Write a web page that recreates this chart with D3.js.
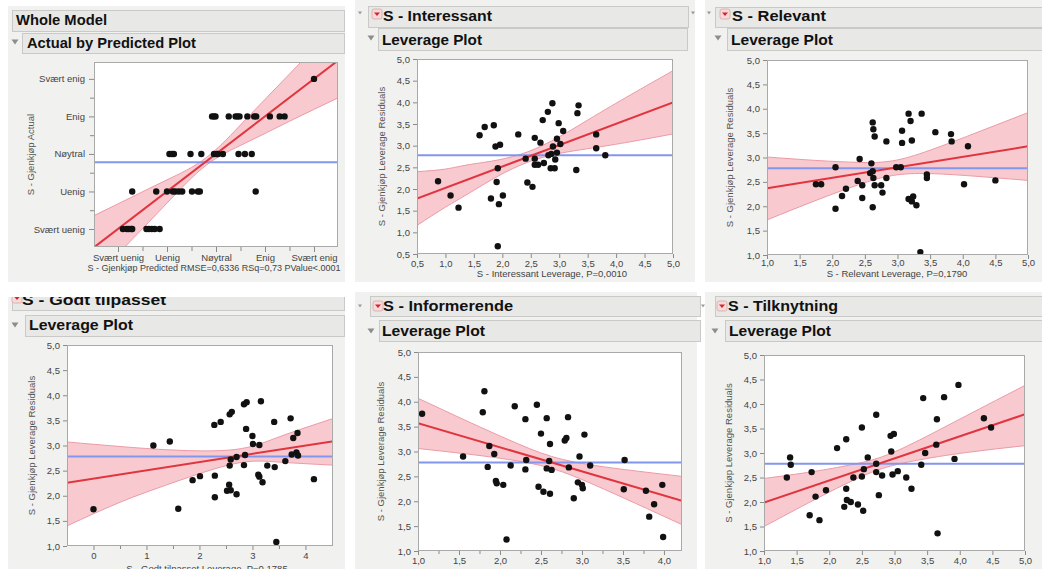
<!DOCTYPE html>
<html>
<head>
<meta charset="utf-8">
<script src="https://cdn.jsdelivr.net/npm/d3@7"></script>
<style>
  html, body { margin: 0; padding: 0; background: #fff; }
  svg { display: block; font-family: "Liberation Sans", Arial, Helvetica, sans-serif; }
</style>
</head>
<body>
<svg id="chart" width="1042" height="569"></svg>
<script>
// ---- data ----
const actualCats = ['Svært uenig', 'Uenig', 'Nøytral', 'Enig', 'Svært enig'];
const meanResponse = 2.78;

// Whole model: predicted vs actual (ordinal 1..5)
const wholePred = [5.0,
  2.92, 2.96, 2.99, 3.26, 3.40, 3.44, 3.48, 3.64, 3.78, 3.82, 4.10, 4.30, 4.40,
  2.05, 2.10, 2.14, 2.48, 2.70, 2.96, 3.01, 3.04, 3.14, 3.46, 3.59, 3.73,
  1.29, 1.78, 2.00, 2.12, 2.17, 2.24, 2.31, 2.51, 2.63, 2.67, 3.81,
  1.10, 1.18, 1.22, 1.27, 1.29, 1.58, 1.63, 1.69, 1.75, 1.85];
const wholeActual = [5,
  4, 4, 4, 4, 4, 4, 4, 4, 4, 4, 4, 4, 4,
  3, 3, 3, 3, 3, 3, 3, 3, 3, 3, 3, 3,
  2, 2, 2, 2, 2, 2, 2, 2, 2, 2, 2,
  1, 1, 1, 1, 1, 1, 1, 1, 1, 1];
const wholeLineX = [0.5, 5.5];
const wholeLineY = [0.5, 5.5];
const wholeBandX = [0.5, 1.25, 2.0, 2.8, 3.6, 4.5, 5.5];
const wholeBandLo = [-0.35, 0.67, 1.69, 2.70, 3.29, 3.87, 4.50];
const wholeBandHi = [1.35, 1.83, 2.31, 2.90, 3.91, 5.13, 6.50];

// S - Interessant
const interX = [0.87, 1.09, 1.23, 1.60, 1.69, 1.80, 1.85, 1.88, 1.92, 1.90, 1.94, 1.92, 1.96, 2.01, 2.28,
  2.41, 2.44, 2.53, 2.57, 2.57, 2.57, 2.63, 2.67, 2.71, 2.73, 2.80, 2.81, 2.86, 2.85, 2.88,
  2.89, 2.92, 2.93, 2.96, 2.96, 2.99, 3.02, 3.07, 3.30, 3.32, 3.34, 3.65, 3.65, 3.81];
const interY = [2.18, 1.85, 1.57, 3.24, 3.43, 1.78, 3.47, 2.98, 2.48, 2.16, 1.65, 0.68, 3.02, 1.85, 3.26,
  2.70, 2.15, 2.05, 3.18, 2.70, 2.56, 2.56, 3.07, 3.59, 2.60, 3.78, 2.78, 2.81, 2.48, 3.98,
  2.98, 2.48, 2.68, 2.84, 3.16, 3.52, 3.04, 3.34, 2.44, 3.75, 3.93, 3.26, 2.94, 2.78];
const interLineX = [0.5, 5.0];
const interLineY = [1.78, 4.0];
const interBandX = [0.5, 1.0, 1.5, 2.45, 3.5, 4.25, 5.0];
const interBandLo = [1.16, 1.58, 1.97, 2.62, 2.93, 3.09, 3.27];
const interBandHi = [2.40, 2.46, 2.58, 2.86, 3.59, 4.17, 4.73];

// S - Relevant
const relX = [1.75, 1.83, 2.05, 2.05, 2.15, 2.21, 2.39, 2.42, 2.46, 2.46, 2.60, 2.58, 2.62, 2.62, 2.63,
  2.65, 2.63, 2.62, 2.65, 2.75, 2.77, 2.83, 2.83, 2.98, 3.05, 3.07, 3.07, 3.17, 3.20, 3.22,
  3.17, 3.22, 3.24, 3.29, 3.35, 3.37, 3.45, 3.45, 3.58, 3.82, 3.83, 4.02, 4.08, 4.50];
const relY = [2.45, 2.45, 2.80, 1.95, 2.21, 2.36, 2.52, 2.97, 2.43, 2.17, 2.88, 2.68, 2.72, 3.72, 3.58,
  3.43, 2.58, 1.98, 2.43, 2.43, 2.28, 3.33, 2.58, 2.80, 2.80, 3.55, 3.30, 3.90, 3.75, 3.35,
  2.15, 2.10, 2.20, 2.02, 1.06, 3.90, 2.65, 2.58, 3.52, 3.48, 3.33, 2.45, 3.23, 2.53];
const relLineX = [1.0, 5.0];
const relLineY = [2.37, 3.23];
const relBandX = [1.0, 1.75, 2.4, 2.92, 3.5, 4.25, 5.0];
const relBandLo = [1.72, 2.12, 2.44, 2.63, 2.67, 2.61, 2.53];
const relBandHi = [3.01, 2.94, 2.90, 2.93, 3.15, 3.53, 3.92];

// S - Godt tilpasset
const godtX = [0.00, 1.13, 1.44, 1.60, 1.87, 2.01, 2.28, 2.29, 2.29, 2.40, 2.52, 2.56, 2.57, 2.59, 2.57,
  2.61, 2.59, 2.70, 2.70, 2.84, 2.89, 2.88, 2.86, 2.84, 3.00, 3.01, 3.13, 3.16, 3.11, 3.13,
  3.19, 3.28, 3.41, 3.42, 3.45, 3.62, 3.72, 3.74, 3.77, 3.85, 3.83, 3.86, 4.16];
const godtY = [1.73, 3.00, 3.08, 1.74, 2.31, 2.39, 3.41, 2.40, 1.97, 3.47, 2.10, 2.22, 2.60, 2.11, 3.62,
  3.67, 2.72, 2.77, 2.03, 3.82, 3.86, 3.33, 2.81, 2.61, 3.19, 3.03, 3.01, 3.88, 2.42, 2.38,
  2.27, 2.60, 3.47, 2.57, 1.08, 2.69, 3.54, 2.82, 3.15, 3.25, 2.86, 2.80, 2.33];
const godtLineX = [-0.5, 4.5];
const godtLineY = [2.26, 3.08];
const godtBandX = [-0.5, 0.5, 1.5, 2.67, 3.5, 4.5];
const godtBandLo = [1.40, 1.87, 2.26, 2.64, 2.67, 2.61];
const godtBandHi = [3.07, 2.98, 2.91, 2.92, 3.17, 3.53];

// S - Informerende
const infX = [1.05, 1.55, 1.79, 1.81, 1.87, 1.85, 1.93, 1.95, 1.96, 2.04, 2.08, 2.13, 2.18, 2.31, 2.31,
  2.32, 2.45, 2.47, 2.50, 2.53, 2.57, 2.57, 2.60, 2.61, 2.61, 2.63, 2.79, 2.81, 2.83, 2.84,
  2.90, 2.95, 2.97, 3.00, 3.01, 3.03, 3.10, 3.51, 3.52, 3.78, 3.82, 3.88, 3.98, 3.99];
const infY = [3.76, 2.90, 3.79, 4.21, 3.11, 2.69, 2.95, 2.41, 2.36, 2.33, 1.23, 2.72, 3.91, 3.65, 2.64,
  2.83, 3.94, 2.29, 3.36, 2.19, 3.67, 2.66, 2.81, 2.15, 3.15, 2.63, 3.22, 3.27, 3.69, 2.68,
  2.06, 2.38, 2.90, 2.33, 2.26, 3.34, 2.72, 2.24, 2.83, 2.21, 1.69, 1.94, 2.33, 1.28];
const infLineX = [1.0, 4.22];
const infLineY = [3.57, 2.01];
const infBandX = [1.0, 1.6, 2.1, 2.63, 3.15, 3.65, 4.22];
const infBandLo = [3.06, 2.95, 2.84, 2.66, 2.33, 1.96, 1.53];
const infBandHi = [4.07, 3.61, 3.24, 2.90, 2.72, 2.61, 2.50];

// S - Tilknytning
const tilX = [1.35, 1.40, 1.41, 1.70, 1.73, 1.79, 1.85, 1.95, 2.12, 2.23, 2.26, 2.26, 2.27, 2.33, 2.37,
  2.44, 2.50, 2.50, 2.52, 2.53, 2.59, 2.72, 2.72, 2.72, 2.76, 2.81, 2.94, 2.99, 2.95, 2.97,
  3.05, 3.18, 3.26, 3.41, 3.44, 3.47, 3.64, 3.65, 3.66, 3.76, 3.92, 3.98, 4.37, 4.48];
const tilY = [2.50, 2.91, 2.76, 1.73, 2.61, 2.11, 1.63, 2.24, 3.10, 1.90, 3.28, 2.27, 2.04, 2.00, 2.50,
  1.95, 3.52, 2.52, 1.82, 2.67, 2.91, 3.78, 2.78, 2.61, 2.14, 2.54, 3.35, 3.39, 3.03, 2.56,
  2.63, 2.50, 2.27, 2.76, 4.12, 3.00, 3.17, 3.69, 1.36, 4.14, 2.88, 4.39, 3.71, 3.52];
const tilLineX = [1.0, 5.0];
const tilLineY = [1.99, 3.79];
const tilBandX = [1.0, 1.75, 2.3, 2.76, 3.3, 4.1, 5.0];
const tilBandLo = [1.50, 2.03, 2.40, 2.66, 2.84, 3.01, 3.15];
const tilBandHi = [2.48, 2.62, 2.75, 2.90, 3.21, 3.76, 4.38];

const halfTicks15 = [1.0, 1.5, 2.0, 2.5, 3.0, 3.5, 4.0, 4.5, 5.0];
const halfTicks05 = [0.5, 1.0, 1.5, 2.0, 2.5, 3.0, 3.5, 4.0, 4.5, 5.0];
const godtXTicks = [0, 1, 2, 3, 4];
const godtXMinor = [0.5, 1.5, 2.5, 3.5];
const infXTicks = [1.0, 1.5, 2.0, 2.5, 3.0, 3.5, 4.0];
const infXMinor = [1.25, 1.75, 2.25, 2.75, 3.25, 3.75];
const catTicks = [1, 2, 3, 4, 5];
const catMinor = [1.5, 2.5, 3.5, 4.5];

const yTitleLev = 'S - Gjenkjøp Leverage Residuals';

// ---- helpers ----
const svg = d3.select('#chart');
const nb = d3.formatLocale({ decimal: ',', thousands: '.', grouping: [3], currency: ['', ''] });
const f1 = nb.format('.1f');
const catFmt = d => actualCats[d - 1];

const zip = (xs, ys) => xs.map((x, i) => ({ x, y: ys[i] }));
const bandRows = (xs, lo, hi) => xs.map((x, i) => ({ x, lo: lo[i], hi: hi[i] }));

const COLORS = {
  panel: '#f1f1ef',
  header: '#e8e8e6',
  headerStroke: '#c9c9c7',
  frame: '#a9a9a9',
  tick: '#8a8a8a',
  tickText: '#444',
  band: '#f8cad0',
  bandEdge: '#eb9ba6',
  fit: '#e0353f',
  mean: '#8396ee',
  dot: '#111'
};

function drawTri(g, cx, cy) {
  g.append('path')
    .attr('d', `M${cx - 3.5},${cy - 2.5}L${cx + 3.5},${cy - 2.5}L${cx},${cy + 2.5}Z`)
    .attr('fill', '#8d8d8d');
}

function drawTiny(g, cx, cy) {
  g.append('path')
    .attr('d', `M${cx - 2},${cy - 1.5}L${cx + 2},${cy - 1.5}L${cx},${cy + 1.5}Z`)
    .attr('fill', '#9a9a9a');
}

function drawMenu(g, x, y) {
  g.append('rect')
    .attr('x', x).attr('y', y).attr('width', 10).attr('height', 10).attr('rx', 2)
    .attr('fill', '#f6dada').attr('stroke', '#d9a7a7').attr('stroke-width', 0.8);
  g.append('path')
    .attr('d', `M${x + 2},${y + 3.5}L${x + 8},${y + 3.5}L${x + 5},${y + 7}Z`)
    .attr('fill', '#d0262b');
}

function drawHeader(g, h) {
  g.append('rect')
    .attr('x', h.box[0] + 0.5).attr('y', h.box[1] + 0.5)
    .attr('width', h.box[2]).attr('height', h.box[3])
    .attr('fill', COLORS.header).attr('stroke', COLORS.headerStroke).attr('stroke-width', 1);
  g.append('text')
    .attr('x', h.tx).attr('y', h.ty)
    .attr('font-size', 15).attr('font-weight', 'bold').attr('fill', '#111')
    .attr('textLength', h.tw).attr('lengthAdjust', 'spacingAndGlyphs')
    .text(h.text);
  if (h.tri) drawTri(g, h.tri[0], h.tri[1]);
  if (h.menu) drawMenu(g, h.menu[0], h.menu[1]);
  if (h.tiny) h.tiny.forEach(t => drawTiny(g, t[0], t[1]));
}

function styleAxis(a) {
  a.select('.domain').remove();
  a.selectAll('.tick line').attr('stroke', COLORS.tick);
  a.selectAll('.tick text').attr('fill', COLORS.tickText).attr('font-size', 9.5);
}

function drawPanel(p, idx) {
  const g = svg.append('g');
  if (p.clip) {
    svg.append('clipPath').attr('id', 'pclip' + idx)
      .append('rect').attr('x', p.clip[0]).attr('y', p.clip[1]).attr('width', p.clip[2]).attr('height', p.clip[3]);
    g.attr('clip-path', `url(#pclip${idx})`);
  }

  g.append('rect')
    .attr('x', p.bg[0]).attr('y', p.bg[1]).attr('width', p.bg[2]).attr('height', p.bg[3])
    .attr('fill', COLORS.panel);

  p.headers.forEach(h => drawHeader(g, h));

  const [x0, y0, x1, y1] = p.plot;
  const x = d3.scaleLinear().domain(p.xDomain).range([x0, x1]);
  const y = d3.scaleLinear().domain(p.yDomain).range([y1, y0]);

  g.append('rect').attr('x', x0).attr('y', y0).attr('width', x1 - x0).attr('height', y1 - y0).attr('fill', '#fff');

  svg.append('clipPath').attr('id', 'plotclip' + idx)
    .append('rect').attr('x', x0).attr('y', y0).attr('width', x1 - x0).attr('height', y1 - y0);
  const inner = g.append('g').attr('clip-path', `url(#plotclip${idx})`);

  // confidence band for the fit
  const area = d3.area().x(d => x(d.x)).y0(d => y(d.lo)).y1(d => y(d.hi)).curve(d3.curveNatural);
  inner.append('path').datum(p.band).attr('d', area).attr('fill', COLORS.band);
  ['lo', 'hi'].forEach(k => {
    inner.append('path').datum(p.band)
      .attr('d', d3.line().x(d => x(d.x)).y(d => y(d[k])).curve(d3.curveNatural))
      .attr('fill', 'none').attr('stroke', COLORS.bandEdge).attr('stroke-width', 1);
  });

  inner.append('line')
    .attr('x1', x0).attr('x2', x1).attr('y1', y(p.mean)).attr('y2', y(p.mean))
    .attr('stroke', COLORS.mean).attr('stroke-width', 2);

  inner.append('path').datum(p.fit)
    .attr('d', d3.line().x(d => x(d.x)).y(d => y(d.y)))
    .attr('fill', 'none').attr('stroke', COLORS.fit).attr('stroke-width', 2);

  inner.selectAll('circle.pt').data(p.pts).join('circle')
    .attr('class', 'pt')
    .attr('cx', d => x(d.x)).attr('cy', d => y(d.y)).attr('r', 3.2)
    .attr('fill', COLORS.dot);

  g.append('rect').attr('x', x0 + 0.5).attr('y', y0 + 0.5).attr('width', x1 - x0 - 1).attr('height', y1 - y0 - 1)
    .attr('fill', 'none').attr('stroke', COLORS.frame).attr('stroke-width', 1);

  const xa = g.append('g').attr('transform', `translate(0,${y1})`)
    .call(d3.axisBottom(x).tickValues(p.xTicks).tickFormat(p.xFormat).tickSize(p.tickLen).tickPadding(p.xPad));
  styleAxis(xa);
  if (p.xMinor) {
    const xm = g.append('g').attr('transform', `translate(0,${y1})`)
      .call(d3.axisBottom(x).tickValues(p.xMinor).tickFormat('').tickSize(p.tickLen - 1));
    styleAxis(xm);
  }
  const ya = g.append('g').attr('transform', `translate(${x0},0)`)
    .call(d3.axisLeft(y).tickValues(p.yTicks).tickFormat(p.yFormat).tickSize(p.tickLen).tickPadding(p.yPad));
  styleAxis(ya);
  if (p.yMinor) {
    const ym = g.append('g').attr('transform', `translate(${x0},0)`)
      .call(d3.axisLeft(y).tickValues(p.yMinor).tickFormat('').tickSize(p.tickLen - 1));
    styleAxis(ym);
  }

  g.append('text')
    .attr('transform', `translate(${p.yTitleX},${(y0 + y1) / 2}) rotate(-90)`)
    .attr('text-anchor', 'middle').attr('font-size', 9.5).attr('fill', '#555')
    .text(p.yTitle);

  if (p.xTitle) {
    g.append('text')
      .attr('x', p.xTitleX).attr('y', p.xTitleY)
      .attr('text-anchor', 'middle').attr('font-size', p.xTitleSize || 9.5).attr('fill', '#444')
      .text(p.xTitle);
  }
}

// ---- panel layout ----
const panels = [
  {
    bg: [8, 6, 337, 276],
    headers: [
      { box: [12, 10, 332, 21], text: 'Whole Model', tx: 16, ty: 24.5, tw: 91 },
      { box: [22, 33, 322, 20], text: 'Actual by Predicted Plot', tx: 27, ty: 47.5, tw: 169, tri: [15, 42] }
    ],
    plot: [94, 62, 338, 247],
    xDomain: [0.51, 5.49], yDomain: [0.52, 5.45],
    xTicks: catTicks, xMinor: catMinor, xFormat: catFmt,
    yTicks: catTicks, yMinor: catMinor, yFormat: catFmt,
    tickLen: 5, xPad: 2.5, yPad: 4,
    yTitle: 'S - Gjenkjøp Actual', yTitleX: 34,
    xTitle: 'S - Gjenkjøp Predicted RMSE=0,6336 RSq=0,73 PValue<.0001', xTitleX: 214, xTitleY: 270.5, xTitleSize: 9,
    mean: meanResponse,
    pts: zip(wholePred, wholeActual),
    fit: zip(wholeLineX, wholeLineY),
    band: bandRows(wholeBandX, wholeBandLo, wholeBandHi)
  },
  {
    bg: [355, 0, 340, 282],
    headers: [
      { box: [368, 6, 320, 21], text: 'S - Interessant', tx: 383, ty: 21, tw: 109, menu: [372, 9], tiny: [[360, 13], [693, 13]] },
      { box: [378, 28, 309, 22], text: 'Leverage Plot', tx: 382, ty: 45, tw: 100, tri: [371, 38] }
    ],
    plot: [417, 59, 673, 254],
    xDomain: [0.5, 5.0], yDomain: [0.5, 5.0],
    xTicks: halfTicks05, xFormat: f1,
    yTicks: halfTicks05, yFormat: f1,
    tickLen: 4, xPad: 2, yPad: 3,
    yTitle: yTitleLev, yTitleX: 385,
    xTitle: 'S - Interessant Leverage, P=0,0010', xTitleX: 552, xTitleY: 276.5,
    mean: meanResponse,
    pts: zip(interX, interY),
    fit: zip(interLineX, interLineY),
    band: bandRows(interBandX, interBandLo, interBandHi)
  },
  {
    bg: [705, 0, 337, 282],
    headers: [
      { box: [715, 7, 330, 20], text: 'S - Relevant', tx: 732, ty: 21, tw: 94, menu: [720, 9], tiny: [[709, 13]] },
      { box: [727, 28, 318, 22], text: 'Leverage Plot', tx: 731, ty: 45, tw: 102, tri: [718, 38] }
    ],
    plot: [767, 60, 1028, 255],
    xDomain: [1.0, 5.0], yDomain: [1.0, 5.0],
    xTicks: halfTicks15, xFormat: f1,
    yTicks: halfTicks15, yFormat: f1,
    tickLen: 4, xPad: 0.5, yPad: 3,
    yTitle: yTitleLev, yTitleX: 733,
    xTitle: 'S - Relevant Leverage, P=0,1790', xTitleX: 897, xTitleY: 276.5,
    mean: meanResponse,
    pts: zip(relX, relY),
    fit: zip(relLineX, relLineY),
    band: bandRows(relBandX, relBandLo, relBandHi)
  },
  {
    clip: [0, 297, 350, 272],
    bg: [8, 288, 337, 281],
    headers: [
      { box: [12, 288, 332, 22], text: 'S - Godt tilpasset', tx: 22, ty: 305, tw: 144, menu: [12, 293] },
      { box: [25, 315, 319, 21], text: 'Leverage Plot', tx: 29, ty: 330, tw: 104, tri: [15, 325] }
    ],
    plot: [67, 345, 333, 546],
    xDomain: [-0.5, 4.52], yDomain: [1.0, 5.0],
    xTicks: godtXTicks, xMinor: godtXMinor, xFormat: d3.format('d'),
    yTicks: halfTicks15, yFormat: f1,
    tickLen: 4, xPad: 2.5, yPad: 3,
    yTitle: yTitleLev, yTitleX: 35,
    xTitle: 'S - Godt tilpasset Leverage, P=0,1785', xTitleX: 207, xTitleY: 571.5,
    mean: meanResponse,
    pts: zip(godtX, godtY),
    fit: zip(godtLineX, godtLineY),
    band: bandRows(godtBandX, godtBandLo, godtBandHi)
  },
  {
    bg: [355, 292, 342, 277],
    headers: [
      { box: [370, 296, 330, 20], text: 'S - Informerende', tx: 383, ty: 311, tw: 130, menu: [373, 301], tiny: [[360, 306]] },
      { box: [379, 320, 321, 21], text: 'Leverage Plot', tx: 382, ty: 336, tw: 103, tri: [371, 331] }
    ],
    plot: [418, 352, 682, 551],
    xDomain: [1.0, 4.22], yDomain: [1.0, 5.0],
    xTicks: infXTicks, xMinor: infXMinor, xFormat: f1,
    yTicks: halfTicks15, yFormat: f1,
    tickLen: 4, xPad: 2, yPad: 3,
    yTitle: yTitleLev, yTitleX: 384,
    mean: meanResponse,
    pts: zip(infX, infY),
    fit: zip(infLineX, infLineY),
    band: bandRows(infBandX, infBandLo, infBandHi)
  },
  {
    bg: [705, 292, 337, 277],
    headers: [
      { box: [715, 296, 330, 20], text: 'S - Tilknytning', tx: 728, ty: 311, tw: 110, menu: [717, 301], tiny: [[703, 306]] },
      { box: [725, 320, 320, 21], text: 'Leverage Plot', tx: 729, ty: 336, tw: 102, tri: [715, 331] }
    ],
    plot: [764, 355, 1025, 551],
    xDomain: [1.0, 5.0], yDomain: [1.0, 5.0],
    xTicks: halfTicks15, xFormat: f1,
    yTicks: halfTicks15, yFormat: f1,
    tickLen: 4, xPad: 2, yPad: 3,
    yTitle: yTitleLev, yTitleX: 732,
    mean: meanResponse,
    pts: zip(tilX, tilY),
    fit: zip(tilLineX, tilLineY),
    band: bandRows(tilBandX, tilBandLo, tilBandHi)
  }
];

panels.forEach(drawPanel);
</script>
</body>
</html>
